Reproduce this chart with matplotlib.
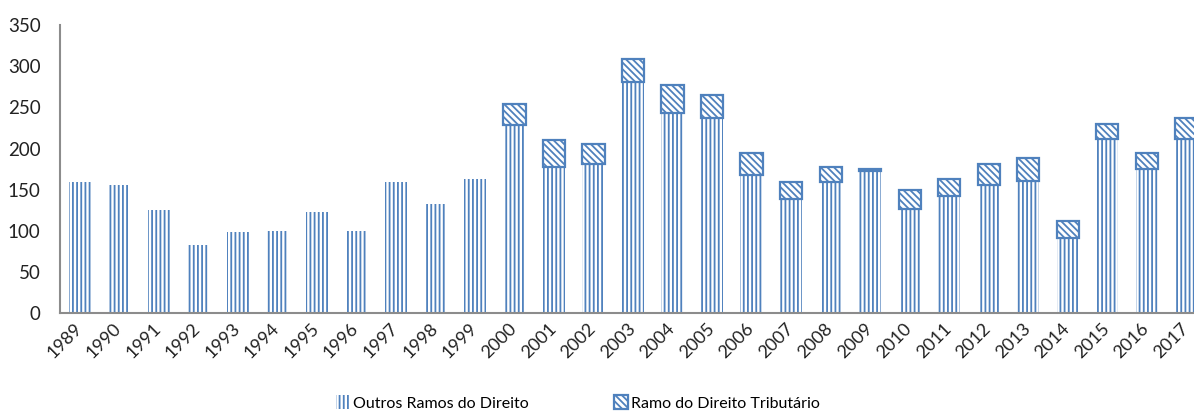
import matplotlib.pyplot as plt
import matplotlib.transforms as mtransforms
import numpy as np

plt.rcParams['font.family'] = ['Lato', 'DejaVu Sans']
plt.rcParams['hatch.linewidth'] = 1.3

years = [str(y) for y in range(1989, 2018)]
outros = [159, 156, 126, 83, 99, 100, 123, 100, 159, 133, 163,
          229, 178, 181, 281, 243, 237, 168, 139, 160, 173,
          127, 142, 156, 161, 91, 211, 175, 211]
tributario = [0, 0, 0, 0, 0, 0, 0, 0, 0, 0, 0,
              25, 32, 25, 28, 34, 28, 27, 21, 18, 2,
              23, 21, 25, 27, 21, 19, 19, 26]
yticks = [0, 50, 100, 150, 200, 250, 300, 350]

blue = '#4F81BD'

fig = plt.figure(figsize=(11.94, 4.12), dpi=100)
ax = fig.add_axes([60 / 1194, 0.2396, 1146 / 1194, 0.6997])

x = np.arange(len(years))
w = 0.56
ax.bar(x, outros, w, color='white', edgecolor=blue, hatch='||||',
       linewidth=0, label='Outros Ramos do Direito')
trib = np.array(tributario)
mask = trib > 0
ax.bar(x[mask], trib[mask], w, bottom=np.array(outros)[mask], color='white',
       edgecolor=blue, hatch='\\\\\\\\\\', linewidth=1.6,
       label='Ramo do Direito Tributário')

ax.set_xlim(-0.5, len(years) - 0.5)
ax.set_ylim(0, 350)
ax.set_yticks(yticks)
ax.set_xticks(x)
ax.set_xticklabels(years, rotation=45, ha='right', rotation_mode='anchor')
ax.tick_params(axis='both', length=0, labelsize=13.5, colors='#222222')
ax.tick_params(axis='x', labelsize=13)
ax.tick_params(axis='y', pad=14)
ax.tick_params(axis='x', pad=5)
# nudge the rotated year labels a little left, like the original
shift = mtransforms.ScaledTranslation(-6 / 100, 0, fig.dpi_scale_trans)
for lbl in ax.get_xticklabels():
    lbl.set_transform(lbl.get_transform() + shift)
for s in ['top', 'right']:
    ax.spines[s].set_visible(False)
for s in ['left', 'bottom']:
    ax.spines[s].set_color('#8c8c8c')
    ax.spines[s].set_linewidth(1.5)

fig.legend(loc='center', bbox_to_anchor=(0.484, 0.022), ncol=2, frameon=False,
           fontsize=11.5, handlelength=0.9, handleheight=0.9, handletextpad=0.2,
           columnspacing=5.3)

fig.savefig('out.png', dpi=100)
